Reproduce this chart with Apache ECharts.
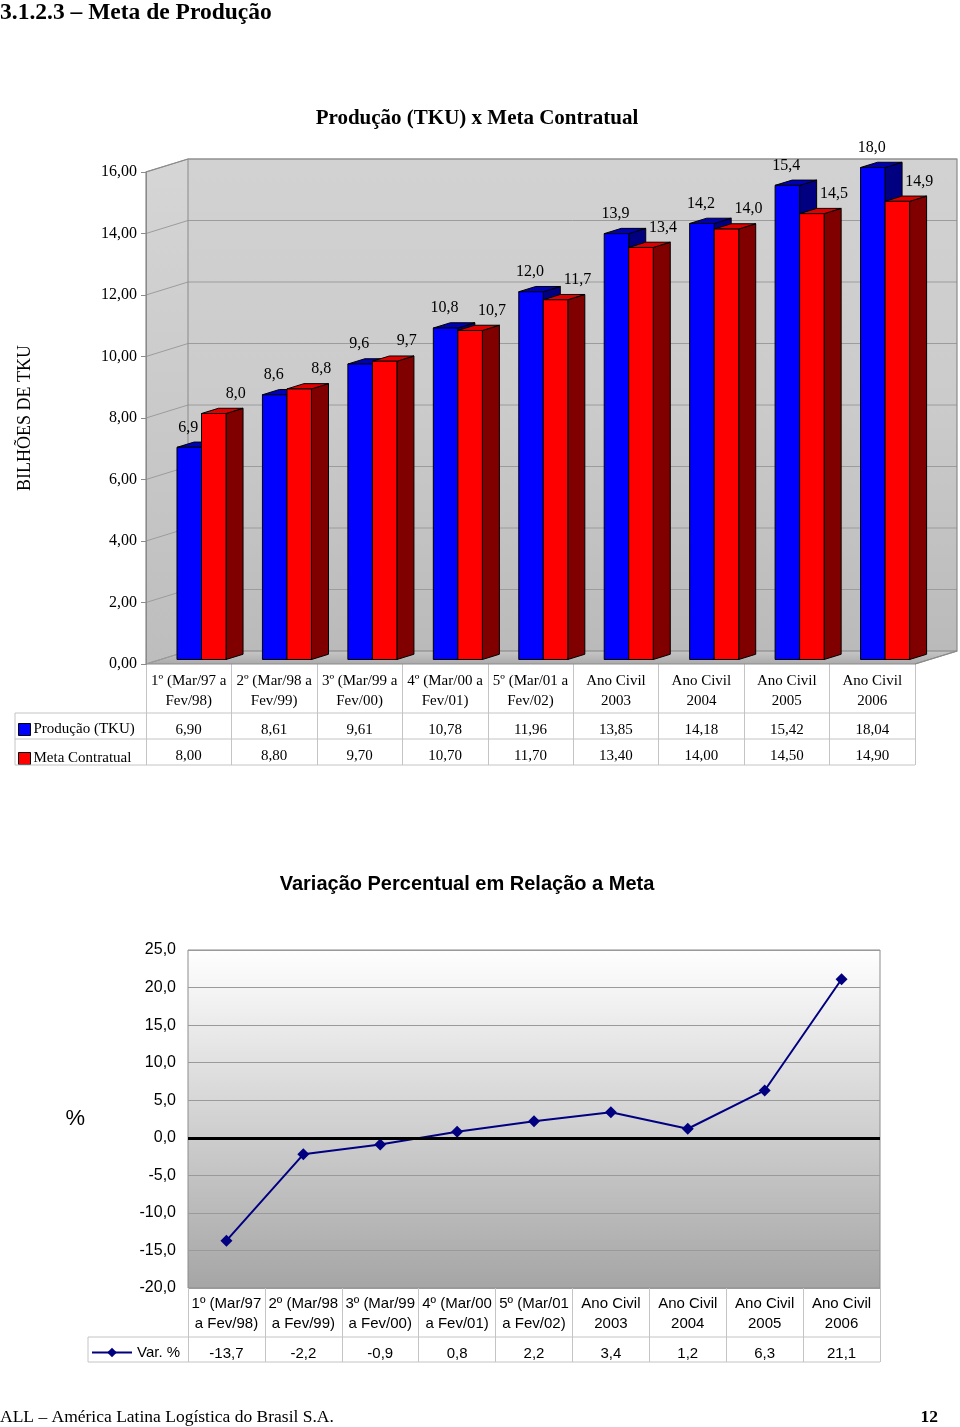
<!DOCTYPE html>
<html><head><meta charset="utf-8">
<script src="https://cdn.jsdelivr.net/npm/echarts@6/dist/echarts.min.js"></script>
<style>html,body{margin:0;padding:0;background:#fff}#c{width:960px;height:1427px}</style>
</head><body><div id="c"></div>
<script>
// ---------- data ----------
const periods = ["1º (Mar/97 a Fev/98)", "2º (Mar/98 a Fev/99)", "3º (Mar/99 a Fev/00)", "4º (Mar/00 a Fev/01)", "5º (Mar/01 a Fev/02)", "Ano Civil 2003", "Ano Civil 2004", "Ano Civil 2005", "Ano Civil 2006"];
const producao = [6.90, 8.61, 9.61, 10.78, 11.96, 13.85, 14.18, 15.42, 18.04];
const meta = [8.00, 8.80, 9.70, 10.70, 11.70, 13.40, 14.00, 14.50, 14.90];
const variacao = [-13.7, -2.2, -0.9, 0.8, 2.2, 3.4, 1.2, 6.3, 21.1];
const seriesNames = ["Produção (TKU)", "Meta Contratual"];
const lineName = "Var. %";
const y1Min = 0, y1Max = 16, y1Step = 2;
const y2Min = -20, y2Max = 25, y2Step = 5;

// ---------- layout / style ----------
const SERIF = '"Liberation Serif", "Times New Roman", serif';
const SANS = '"Liberation Sans", Arial, sans-serif';
const G1 = {left: 146, top: 172, width: 769, height: 492};
const G2 = {left: 188, top: 950, width: 692, height: 338};
const DEPTH = [42, -13];
const F1 = 0.345, F2 = 0.75;
const TABLE_LINE = '#c4c4c4';

function comma(v, d) { return (v + (v >= 0 ? 1e-9 : -1e-9)).toFixed(d).replace('.', ','); }
function wrap1(s) { return s.indexOf(' a Fev') >= 0 ? s.replace(' a Fev', ' a\nFev') : s.replace('Civil ', 'Civil\n'); }
function wrap2(s) { return s.indexOf(' a Fev') >= 0 ? s.replace(' a Fev', '\na Fev') : s.replace('Civil ', 'Civil\n'); }

const chart = echarts.init(document.getElementById('c'), null, {renderer: 'canvas'});

function wallsRender(params, api) {
  const cs = params.coordSys;
  const x0 = cs.x, x1 = cs.x + cs.width, yT = cs.y, yB = cs.y + cs.height;
  const dx = DEPTH[0], dy = DEPTH[1];
  const grad = new echarts.graphic.LinearGradient(0, 0, 0, 1, [
    {offset: 0, color: '#d2d2d2'}, {offset: 0.5, color: '#cbcbcb'}, {offset: 1, color: '#bababa'}]);
  const children = [
    {type: 'polygon', shape: {points: [[x0, yT], [x0 + dx, yT + dy], [x0 + dx, yB + dy], [x0, yB]]},
      style: {fill: new echarts.graphic.LinearGradient(0, 0, 0, 1, [{offset: 0, color: '#d6d6d6'}, {offset: 1, color: '#bdbdbd'}]), stroke: null}},
    {type: 'rect', shape: {x: x0 + dx, y: yT + dy, width: cs.width, height: cs.height},
      style: {fill: grad, stroke: null}},
    {type: 'polygon', shape: {points: [[x0, yB], [x1, yB], [x1 + dx, yB + dy], [x0 + dx, yB + dy]]},
      style: {fill: new echarts.graphic.LinearGradient(0, 0, 0, 1, [{offset: 0, color: '#c8c8c8'}, {offset: 1, color: '#a9a9a9'}]), stroke: '#8a8a8a', lineWidth: 1}}
  ];
  for (let t = y1Min; t <= y1Max; t += y1Step) {
    const y = api.coord([0, t])[1];
    children.push({type: 'polyline', shape: {points: [[x0, y], [x0 + dx, y + dy], [x1 + dx, y + dy]]},
      style: {stroke: '#9c9c9c', lineWidth: 1, fill: null}});
  }
  children.push({type: 'polyline', shape: {points: [[x0, yB], [x0, yT], [x0 + dx, yT + dy], [x1 + dx, yT + dy], [x1 + dx, yB + dy], [x1, yB]]},
    style: {stroke: '#8a8a8a', lineWidth: 1.2, fill: null}});
  children.push({type: 'line', shape: {x1: x0 + dx, y1: yT + dy, x2: x0 + dx, y2: yB + dy},
    style: {stroke: '#8a8a8a', lineWidth: 1}});
  return {type: 'group', children};
}

function barRenderer(which, colors) {
  return function (params, api) {
    const i = api.value(0), v = api.value(1);
    const vc = Math.min(v, y1Max);
    const base = api.coord([i, 0]);
    const top = api.coord([i, vc]);
    const bw = api.size([1, 0])[0];
    const w = bw * 0.287;
    const cx = base[0] - 1.7;
    const d1x = DEPTH[0] * F1, d1y = DEPTH[1] * F1;
    const ddx = DEPTH[0] * (F2 - F1), ddy = DEPTH[1] * (F2 - F1);
    const xl = (which === 0 ? cx - w : cx) + d1x;
    const xr = xl + w;
    const yt = top[1] + d1y, yb = base[1] + d1y;
    const st = {stroke: '#000', lineWidth: 1, lineJoin: 'round'};
    const labelX = (xl + xr) / 2 + (which === 0 ? -1 : 22);
    return {type: 'group', children: [
      {type: 'polygon', shape: {points: [[xr, yt], [xr + ddx, yt + ddy], [xr + ddx, yb + ddy], [xr, yb]]},
        style: Object.assign({fill: colors[2]}, st)},
      {type: 'polygon', shape: {points: [[xl, yt], [xr, yt], [xr + ddx, yt + ddy], [xl + ddx, yt + ddy]]},
        style: Object.assign({fill: colors[1]}, st)},
      {type: 'rect', shape: {x: xl, y: yt, width: w, height: yb - yt},
        style: Object.assign({fill: colors[0]}, st)},
      {type: 'text', style: {text: comma(v, 1), x: labelX, y: yt - 20, textAlign: 'center', textVerticalAlign: 'middle',
        fill: '#000', font: '16px ' + SERIF}}
    ]};
  };
}

// table lines (decoration, derived from layout constants)
const g1b = G1.top + G1.height;
const g2b = G2.top + G2.height;
const T1 = {left: 15, right: G1.left + G1.width, r0: g1b + 49, r1: g1b + 75, r2: g1b + 101};
const T2 = {left: 88, right: G2.left + G2.width, r0: g2b + 49, r1: g2b + 74};
function hline(x1, x2, y) { return {type: 'line', shape: {x1, y1: y, x2, y2: y}, style: {stroke: TABLE_LINE, lineWidth: 1}, z: 10}; }
function vline(x, y1, y2) { return {type: 'line', shape: {x1: x, y1, x2: x, y2}, style: {stroke: TABLE_LINE, lineWidth: 1}, z: 10}; }

const noSplit = {show: false};
const noLine = {show: false, onZero: false};
const option = {
  animation: false,
  backgroundColor: '#fff',
  graphic: [
    {type: 'text', style: {text: '3.1.2.3 – Meta de Produção', x: 0, y: 13, textVerticalAlign: 'middle', font: 'bold 23.5px ' + SERIF, fill: '#000'}},
    {type: 'text', style: {text: 'Produção (TKU) x Meta Contratual', x: 477, y: 119, textAlign: 'center', textVerticalAlign: 'middle', font: 'bold 21px ' + SERIF, fill: '#000'}},
    {type: 'text', style: {text: 'Variação Percentual em Relação a Meta', x: 467, y: 884, textAlign: 'center', textVerticalAlign: 'middle', font: 'bold 20px ' + SANS, fill: '#000'}},
    {type: 'text', style: {text: 'ALL – América Latina Logística do Brasil S.A.', x: 0, y: 1417, textVerticalAlign: 'middle', font: '17.5px ' + SERIF, fill: '#000'}},
    {type: 'text', style: {text: '12', x: 938, y: 1417, textAlign: 'right', textVerticalAlign: 'middle', font: 'bold 17.5px ' + SERIF, fill: '#000'}},
    hline(T1.left, T1.right, T1.r0), hline(T1.left, T1.right, T1.r1), hline(T1.left, T1.right, T1.r2), vline(T1.left, T1.r0, T1.r2),
    hline(T2.left, T2.right, T2.r0), hline(T2.left, T2.right, T2.r1), vline(T2.left, T2.r0, T2.r1)
  ],
  legend: [
    {data: [
      {name: seriesNames[0], itemStyle: {color: '#0000ff', borderColor: '#000', borderWidth: 1}},
      {name: seriesNames[1], itemStyle: {color: '#ff0000', borderColor: '#000', borderWidth: 1}}],
     orient: 'vertical', left: 18, top: g1b + 58, padding: 0, itemWidth: 12, itemHeight: 12, itemGap: 14, icon: 'rect',
     selectedMode: false, textStyle: {fontFamily: SERIF, fontSize: 15, color: '#000', padding: [0, 0, 0, -2]}},
    {data: [lineName], left: 91, top: g2b + 57, padding: 0, itemWidth: 40, itemHeight: 12, selectedMode: false,
     textStyle: {fontFamily: SANS, fontSize: 15, color: '#000'}}
  ],
  grid: [
    Object.assign({show: false, outerBoundsMode: 'none', containLabel: false}, G1),
    Object.assign({show: true, outerBoundsMode: 'none', containLabel: false, borderColor: '#8c8c8c', borderWidth: 1,
      backgroundColor: new echarts.graphic.LinearGradient(0, 0, 0, 1, [{offset: 0, color: '#ffffff'}, {offset: 1, color: '#a5a5a5'}])}, G2)
  ],
  xAxis: [
    {type: 'category', gridIndex: 0, data: periods, boundaryGap: true, position: 'bottom', splitLine: noSplit, splitArea: noSplit,
     axisLine: noLine, axisTick: {show: true, inside: false, length: 101, interval: 0, lineStyle: {color: TABLE_LINE}},
     axisLabel: {interval: 0, margin: 7, lineHeight: 20, fontFamily: SERIF, fontSize: 15, color: '#000', formatter: v => wrap1(v)}},
    {type: 'category', gridIndex: 0, data: periods, position: 'bottom', offset: 51, splitLine: noSplit, splitArea: noSplit,
     axisLine: noLine, axisTick: {show: false},
     axisLabel: {interval: 0, margin: 6, lineHeight: 18, fontFamily: SERIF, fontSize: 15, color: '#000', formatter: (v, i) => comma(producao[i], 2)}},
    {type: 'category', gridIndex: 0, data: periods, position: 'bottom', offset: 77, splitLine: noSplit, splitArea: noSplit,
     axisLine: noLine, axisTick: {show: false},
     axisLabel: {interval: 0, margin: 6, lineHeight: 18, fontFamily: SERIF, fontSize: 15, color: '#000', formatter: (v, i) => comma(meta[i], 2)}},
    {type: 'category', gridIndex: 1, data: periods, boundaryGap: true, position: 'bottom', splitLine: noSplit, splitArea: noSplit,
     axisLine: noLine, axisTick: {show: true, inside: false, length: 74, interval: 0, lineStyle: {color: TABLE_LINE}},
     axisLabel: {interval: 0, margin: 6, lineHeight: 20, fontFamily: SANS, fontSize: 15, color: '#000', formatter: v => wrap2(v)}},
    {type: 'category', gridIndex: 1, data: periods, position: 'bottom', offset: 52, splitLine: noSplit, splitArea: noSplit,
     axisLine: noLine, axisTick: {show: false},
     axisLabel: {interval: 0, margin: 5, lineHeight: 18, fontFamily: SANS, fontSize: 15, color: '#000', formatter: (v, i) => comma(variacao[i], 1)}}
  ],
  yAxis: [
    {type: 'value', gridIndex: 0, min: y1Min, max: y1Max, interval: y1Step, z: 3,
     name: 'BILHÕES DE TKU', nameLocation: 'middle', nameGap: 112, nameRotate: 90,
     nameTextStyle: {fontFamily: SERIF, fontSize: 18, color: '#000'},
     axisLine: {show: true, onZero: false, lineStyle: {color: '#8a8a8a'}}, axisTick: {show: true, length: 5, lineStyle: {color: '#8a8a8a'}},
     splitLine: {show: false},
     axisLabel: {margin: 9, fontFamily: SERIF, fontSize: 16, color: '#000', padding: [3, 0, 0, 0], formatter: v => comma(v, 2)}},
    {type: 'value', gridIndex: 1, min: y2Min, max: y2Max, interval: y2Step,
     name: '%', nameLocation: 'middle', nameGap: 103, nameRotate: 0,
     nameTextStyle: {fontFamily: SANS, fontSize: 22, color: '#000', padding: [6, 0, 0, 0]},
     axisLine: {show: false, onZero: false}, axisTick: {show: false},
     splitLine: {show: true, lineStyle: {color: '#9a9a9a', width: 1}},
     axisLabel: {margin: 12, fontFamily: SANS, fontSize: 16, color: '#000', padding: [4, 0, 0, 0], formatter: v => comma(v, 1)}}
  ],
  series: [
    {type: 'custom', name: '_walls', xAxisIndex: 0, yAxisIndex: 0, z: 1, silent: true,
     data: [[0, 0]], renderItem: wallsRender, encode: {x: 0, y: 1}},
    {type: 'custom', name: seriesNames[0], xAxisIndex: 0, yAxisIndex: 0, z: 2,
     itemStyle: {color: '#0000ff'},
     data: producao.map((v, i) => [i, v]), encode: {x: 0, y: 1},
     renderItem: barRenderer(0, ['#0000ff', '#0000b8', '#000080'])},
    {type: 'custom', name: seriesNames[1], xAxisIndex: 0, yAxisIndex: 0, z: 3,
     itemStyle: {color: '#ff0000'},
     data: meta.map((v, i) => [i, v]), encode: {x: 0, y: 1},
     renderItem: barRenderer(1, ['#ff0000', '#e00000', '#800000'])},
    {type: 'line', name: lineName, xAxisIndex: 3, yAxisIndex: 1, data: variacao,
     symbol: 'diamond', symbolSize: 12, itemStyle: {color: '#000080'}, lineStyle: {color: '#000080', width: 2},
     markLine: {silent: true, symbol: 'none', label: {show: false}, data: [{yAxis: 0}],
       lineStyle: {color: '#000', width: 3, type: 'solid'}}}
  ]
};
chart.setOption(option);
</script>
</body></html>
